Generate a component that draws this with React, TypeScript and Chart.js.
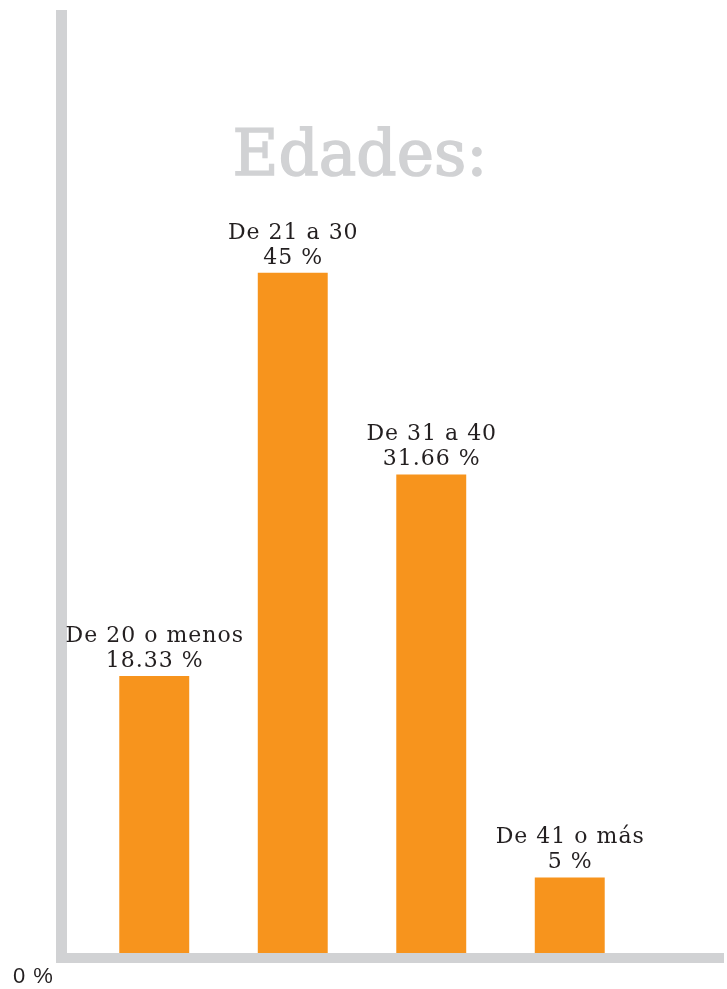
import React, { useEffect, useRef } from "react";
import { Chart, registerables } from "chart.js";

Chart.register(...registerables);

const categories = ["De 20 o menos", "De 21 a 30", "De 31 a 40", "De 41 o más"];
const values = [18.33, 45, 31.66, 5];
const valueLabels = ["18.33 %", "45 %", "31.66 %", "5 %"];
const titleText = "Edades:";
const zeroLabel = "0 %";

const GREY = "#D1D2D4";
const ORANGE = "#F7941D";
const TEXT = "#231F20";
const SERIF = "'DejaVu Serif', serif";

const decorPlugin = {
  id: "decor",
  afterDatasetsDraw(chart: any) {
    const { ctx, chartArea, width } = chart;
    const yScale = chart.scales.y;
    const base = yScale.getPixelForValue(0);
    const axisLeft = chartArea.left - 29;
    ctx.save();
    ctx.fillStyle = GREY;
    // vertical axis
    ctx.fillRect(axisLeft, 10, 11, base);
    // horizontal axis
    ctx.fillRect(axisLeft, base, width - 3 - axisLeft, 10);

    // title
    ctx.fillStyle = GREY;
    ctx.strokeStyle = GREY;
    ctx.lineWidth = 1.5;
    ctx.font = `63px ${SERIF}`;
    ctx.textAlign = "center";
    ctx.textBaseline = "alphabetic";
    (ctx as any).letterSpacing = "0px";
    ctx.fillText(titleText, 360, 175);
    ctx.strokeText(titleText, 360, 175);

    // bar labels
    const meta = chart.getDatasetMeta(0);
    ctx.fillStyle = TEXT;
    ctx.font = `22px ${SERIF}`;
    (ctx as any).letterSpacing = "1px";
    meta.data.forEach((bar: any, i: number) => {
      const x = bar.x + 0.5;
      const top = bar.y;
      ctx.fillText(categories[i], x, top - 34);
      ctx.fillText(valueLabels[i], x, top - 9);
    });

    // zero label
    ctx.font = "22px 'Liberation Sans', Arial, sans-serif";
    (ctx as any).letterSpacing = "1px";
    ctx.textAlign = "left";
    ctx.fillText(zeroLabel, 13, base + 30);
    ctx.restore();
  },
};

export default function App() {
  const ref = useRef<HTMLCanvasElement | null>(null);
  useEffect(() => {
    document.body.style.margin = "0";
    const canvas = ref.current;
    if (!canvas) return;
    const chart = new Chart(canvas, {
      type: "bar",
      data: {
        labels: categories,
        datasets: [
          {
            data: values,
            backgroundColor: ORANGE,
            borderWidth: 0,
            barPercentage: 1,
            categoryPercentage: 0.505,
          },
        ],
      },
      options: {
        animation: false,
        responsive: false,
        maintainAspectRatio: false,
        layout: { padding: { left: 85, right: 88, top: 46, bottom: 36 } },
        plugins: {
          legend: { display: false },
          tooltip: { enabled: false },
          title: { display: false },
        },
        scales: {
          x: { display: false },
          y: { display: false, min: 0, max: 60 },
        },
      },
      plugins: [decorPlugin],
    });
    return () => chart.destroy();
  }, []);
  return (
    <div style={{ width: 727, height: 989, background: "#fff" }}>
      <canvas ref={ref} width={727} height={989} style={{ display: "block" }} />
    </div>
  );
}
